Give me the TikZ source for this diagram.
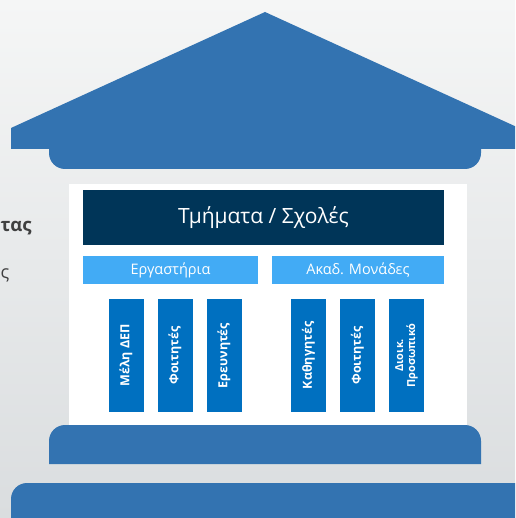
\documentclass[tikz,border=0pt]{standalone}
\usepackage{fontspec}
\setmainfont{Open Sans}
\usetikzlibrary{positioning}
\definecolor{roofblue}{RGB}{51,115,177}
\definecolor{navy}{RGB}{0,53,88}
\definecolor{skyblue}{RGB}{66,171,245}
\definecolor{colblue}{RGB}{0,112,192}
\definecolor{bgtop}{RGB}{245,246,246}
\definecolor{bgbottom}{RGB}{218,221,223}
\definecolor{textgray}{RGB}{64,64,64}

\begin{document}
\begin{tikzpicture}[x=1pt,y=-1pt,node distance=49pt,on grid,
 header/.style={fill=navy,text=white,minimum width=361pt,minimum height=55pt,font=\fontsize{21}{24}\selectfont},
 unit/.style={fill=skyblue,text=white,minimum height=28pt,inner sep=0pt,font=\fontsize{14.5}{16}\selectfont},
 pillar/.style={fill=colblue,text=white,rotate=90,minimum width=113pt,minimum height=35pt,inner sep=0pt,align=center,font=\bfseries\fontsize{12.5}{13}\selectfont}]
 \useasboundingbox (0,0) rectangle (515,518);
 \clip (0,0) rectangle (515,518);
 \shade[top color=bgtop,bottom color=bgbottom] (0,0) rectangle (515,518);
 % slide text behind the building
 \node[anchor=west,text=textgray,font=\bfseries\fontsize{18.5}{22}\selectfont] (word_1) at (-3,228) {τας};
 \node[anchor=west,text=textgray,font=\fontsize{18}{20}\selectfont] (word_2) at (-3,275) {ς};
 % roof
 \fill[roofblue] (11,128) -- (265,12) -- (519,128) -- (519,149) -- (11,149) -- cycle;
 \fill[roofblue,rounded corners=16pt] (49,140) -- (49,169) -- (481,169) -- (481,140);
 % wall
 \fill[white] (69,184) rectangle (467,425);
 \node[header] (dept) at (263.5,217.5) {Τμήματα / Σχολές};
 \node[unit,minimum width=175pt] (labs) at (170.5,270) {Εργαστήρια};
 \node[unit,minimum width=172pt] (units) at (358,270) {Ακαδ. Μονάδες};
 % columns
 \node[pillar] (lab_1) at (126,355.5) {Μέλη ΔΕΠ};
 \node[pillar] (lab_2) [right=of lab_1] {Φοιτητές};
 \node[pillar] (lab_3) [right=of lab_2] {Ερευνητές};
 \node[pillar] (unit_1) at (308.5,355.5) {Καθηγητές};
 \node[pillar] (unit_2) [right=of unit_1] {Φοιτητές};
 \node[pillar,font=\bfseries\fontsize{11}{12}\selectfont] (unit_3) [right=of unit_2] {Διοικ.\\Προσωπικό};
 % steps
 \fill[roofblue,rounded corners=16pt] (49,464) -- (49,425) -- (481,425) -- (481,464);
 \fill[roofblue,rounded corners=16pt] (11,530) -- (11,483) -- (530,483) -- (530,530);
\end{tikzpicture}
\end{document}
